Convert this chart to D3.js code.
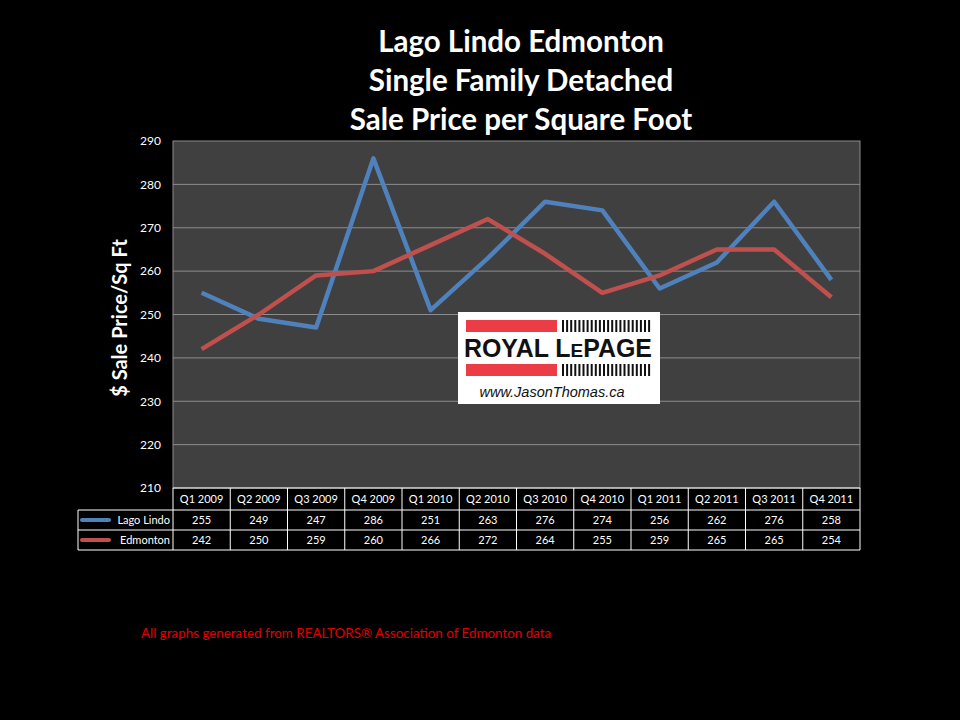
<!DOCTYPE html>
<html><head><meta charset="utf-8">
<script src="https://cdn.jsdelivr.net/npm/d3@7"></script>
<style>body{margin:0;background:#000}svg{display:block}</style>
</head><body>
<script>
const quarters = ["Q1 2009","Q2 2009","Q3 2009","Q4 2009","Q1 2010","Q2 2010","Q3 2010","Q4 2010","Q1 2011","Q2 2011","Q3 2011","Q4 2011"];
const lagoLindo = [255,249,247,286,251,263,276,274,256,262,276,258];
const edmonton = [242,250,259,260,266,272,264,255,259,265,265,254];
const seriesNames = ["Lago Lindo","Edmonton"];
const seriesColors = ["#4f81bd","#c0504d"];
const yTicks = [210,220,230,240,250,260,270,280,290];
const titleLines = ["Lago Lindo Edmonton","Single Family Detached","Sale Price per Square Foot"];

(function(){
const W=960,H=720;
const svg=d3.select("body").append("svg").attr("width",W).attr("height",H);
svg.append("rect").attr("width",W).attr("height",H).attr("fill","#000");

const font="Lato, 'Open Sans', sans-serif";
const pl=173,pr=860,pt=141,pb=488;
const x=d3.scaleBand().domain(quarters).range([pl,pr]);
const y=d3.scaleLinear().domain([210,290]).range([pb,pt]);

// title
svg.append("g").selectAll("text").data(titleLines).join("text")
  .attr("x",521).attr("y",(d,i)=>52+i*39).attr("text-anchor","middle")
  .attr("fill","#fff").attr("font-family",font).attr("font-weight","bold").attr("font-size",29.5).text(d=>d);

// plot area
svg.append("rect").attr("x",pl).attr("y",pt).attr("width",pr-pl).attr("height",pb-pt)
  .attr("fill","#404040").attr("stroke","#8c8c8c").attr("stroke-width",1);
svg.append("g").selectAll("line").data(yTicks.slice(1,-1)).join("line")
  .attr("x1",pl).attr("x2",pr).attr("y1",d=>y(d)).attr("y2",d=>y(d))
  .attr("stroke","#8c8c8c").attr("stroke-width",1);

// y axis
const yAxis=svg.append("g").attr("transform",`translate(${pl},0)`)
  .call(d3.axisLeft(y).tickValues(yTicks).tickSize(0).tickPadding(12));
yAxis.select(".domain").remove();
yAxis.selectAll("text").attr("fill","#fff").attr("font-family",font).attr("font-size",12);

svg.append("text").attr("transform","translate(127,318) rotate(-90)").attr("text-anchor","middle")
  .attr("fill","#fff").attr("font-family",font).attr("font-weight","bold").attr("font-size",20).text("$ Sale Price/Sq Ft");

// lines
const line=d3.line().x((d,i)=>x(quarters[i])+x.bandwidth()/2).y(d=>y(d));
[lagoLindo,edmonton].forEach((s,k)=>{
  svg.append("path").datum(s).attr("d",line).attr("fill","none")
    .attr("stroke",seriesColors[k]).attr("stroke-width",4.5).attr("stroke-linejoin","round");
});

// logo
const lg=svg.append("g").attr("transform","translate(458,312)");
lg.append("rect").attr("width",202).attr("height",92).attr("fill","#fff");
lg.append("rect").attr("x",8).attr("y",8).attr("width",91).attr("height",12).attr("fill","#ec3c46");
lg.append("rect").attr("x",8).attr("y",52).attr("width",91).attr("height",12).attr("fill","#ec3c46");
const stripes=d3.range(22);
[8,52].forEach(yy=>{
  lg.append("g").selectAll("rect").data(stripes).join("rect")
    .attr("x",d=>104+d*4.1).attr("y",yy).attr("width",2).attr("height",12).attr("fill","#111");
});
lg.append("text").attr("x",100).attr("y",45).attr("text-anchor","middle").attr("fill","#111")
  .attr("font-family","'Liberation Sans', Arial, sans-serif").attr("font-weight","bold").attr("font-size",25)
  .attr("textLength",188).attr("lengthAdjust","spacingAndGlyphs")
  .html('ROYAL L<tspan font-size="19">E</tspan>PAGE');
lg.append("text").attr("x",94).attr("y",85).attr("text-anchor","middle").attr("fill","#111")
  .attr("font-family","'Liberation Sans', Arial, sans-serif").attr("font-style","italic").attr("font-size",14.5)
  .text("www.JasonThomas.ca");

// table
const rowH=[488,510,530,550];
const tg=svg.append("g").attr("font-family",font).attr("font-size",11).attr("fill","#fff");
const xs=quarters.map(q=>x(q)).concat([pr]);
tg.selectAll("line.v").data(xs).join("line").attr("class","v")
  .attr("x1",d=>d).attr("x2",d=>d).attr("y1",pb).attr("y2",550).attr("stroke","#fff");
tg.append("line").attr("x1",78).attr("x2",78).attr("y1",510).attr("y2",550).attr("stroke","#fff");
tg.append("line").attr("x1",pl).attr("x2",pr).attr("y1",488).attr("y2",488).attr("stroke","#fff");
[510,530,550].forEach(yy=>tg.append("line").attr("x1",78).attr("x2",pr).attr("y1",yy).attr("y2",yy).attr("stroke","#fff"));
tg.selectAll("text.h").data(quarters).join("text").attr("class","h")
  .attr("x",d=>x(d)+x.bandwidth()/2).attr("y",503).attr("text-anchor","middle").text(d=>d);
[lagoLindo,edmonton].forEach((s,k)=>{
  const yy=rowH[k+1]+14;
  tg.append("g").selectAll("text").data(s).join("text")
    .attr("x",(d,i)=>x(quarters[i])+x.bandwidth()/2).attr("y",yy).attr("text-anchor","middle").text(d=>d);
  tg.append("line").attr("x1",82).attr("x2",109).attr("y1",yy-4).attr("y2",yy-4)
    .attr("stroke",seriesColors[k]).attr("stroke-width",4).attr("stroke-linecap","round");
  tg.append("text").attr("x",170).attr("y",yy).attr("text-anchor","end").text(seriesNames[k]);
});

// footer
svg.append("text").attr("x",141).attr("y",638).attr("fill","#e00000").attr("font-family",font)
  .attr("font-size",13.4).text("All graphs generated from REALTORS® Association of Edmonton data");
})();
</script>
</body></html>
